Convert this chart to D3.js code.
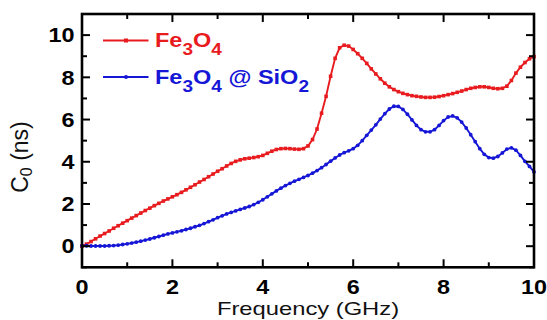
<!DOCTYPE html>
<html><head><meta charset="utf-8">
<script src="https://cdn.jsdelivr.net/npm/d3@7"></script>
<style>body{margin:0;background:#fff}svg{display:block}</style>
</head><body>
<script>
const freq = [0,0.1,0.2,0.3,0.4,0.5,0.6,0.7,0.8,0.9,1,1.1,1.2,1.3,1.4,1.5,1.6,1.7,1.8,1.9,2,2.1,2.2,2.3,2.4,2.5,2.6,2.7,2.8,2.9,3,3.1,3.2,3.3,3.4,3.5,3.6,3.7,3.8,3.9,4,4.1,4.2,4.3,4.4,4.5,4.6,4.7,4.8,4.9,5,5.1,5.2,5.3,5.4,5.5,5.6,5.7,5.8,5.9,6,6.1,6.2,6.3,6.4,6.5,6.6,6.7,6.8,6.9,7,7.1,7.2,7.3,7.4,7.5,7.6,7.7,7.8,7.9,8,8.1,8.2,8.3,8.4,8.5,8.6,8.7,8.8,8.9,9,9.1,9.2,9.3,9.4,9.5,9.6,9.7,9.8,9.9,10];
const fe3o4 = [0.00,0.10,0.22,0.35,0.48,0.60,0.72,0.85,0.97,1.09,1.21,1.33,1.45,1.57,1.69,1.80,1.92,2.03,2.14,2.24,2.34,2.44,2.55,2.67,2.79,2.91,3.04,3.16,3.29,3.42,3.55,3.67,3.80,3.92,4.02,4.09,4.14,4.17,4.20,4.24,4.30,4.40,4.50,4.58,4.62,4.63,4.62,4.60,4.59,4.62,4.75,5.05,5.55,6.30,7.10,8.05,8.90,9.40,9.52,9.48,9.32,9.12,8.90,8.66,8.40,8.16,7.93,7.72,7.55,7.42,7.32,7.24,7.18,7.13,7.10,7.07,7.05,7.05,7.06,7.09,7.13,7.18,7.23,7.29,7.35,7.42,7.48,7.52,7.55,7.55,7.52,7.48,7.46,7.48,7.58,7.85,8.20,8.48,8.70,8.88,8.98];
const fe3o4SiO2 = [0.02,0.02,0.01,0.01,0.01,0.01,0.02,0.03,0.05,0.08,0.11,0.15,0.19,0.24,0.29,0.34,0.40,0.46,0.52,0.58,0.63,0.68,0.73,0.79,0.85,0.92,0.99,1.07,1.16,1.25,1.35,1.44,1.53,1.60,1.67,1.74,1.81,1.88,1.97,2.08,2.20,2.34,2.48,2.62,2.75,2.87,2.98,3.08,3.17,3.26,3.35,3.46,3.58,3.72,3.87,4.03,4.18,4.32,4.43,4.52,4.62,4.78,5.00,5.25,5.50,5.75,6.02,6.28,6.50,6.63,6.62,6.48,6.25,5.98,5.72,5.52,5.42,5.42,5.52,5.72,5.95,6.12,6.17,6.08,5.88,5.60,5.28,4.95,4.62,4.35,4.20,4.17,4.25,4.42,4.60,4.66,4.55,4.30,4.02,3.78,3.52];
const xMajor = [0,2,4,6,8,10];
const xMinor = [1,3,5,7,9];
const yMajor = [0,2,4,6,8,10];
const yMinor = [-1,1,3,5,7,9];
const xLabels = ["0","2","4","6","8","10"];
const yLabels = ["0","2","4","6","8","10"];

const W = 547, H = 320;
const RED = "#e81b1f", BLUE = "#1616d6";
const SX = 1.12;
const FONT = "'Liberation Sans', Arial, sans-serif";

const svg = d3.select("body").append("svg").attr("width", W).attr("height", H);
const x = d3.scaleLinear().domain([0, 10]).range([82, 534]);
const y = d3.scaleLinear().domain([-1, 11]).range([267.3, 14]);

function stext(g, tx, ty, anchor, sx) {
  return g.append("text").attr("transform", `translate(${tx},${ty}) scale(${sx || SX},1)`)
    .attr("text-anchor", anchor).attr("font-family", FONT);
}

// series
const line = d3.line().x((d, i) => x(freq[i])).y(d => y(d)).curve(d3.curveLinear);
const series = [
  {vals: fe3o4, color: RED, marker: "square"},
  {vals: fe3o4SiO2, color: BLUE, marker: "circle"}
];
const plot = svg.append("g");
series.forEach(s => {
  plot.append("path").datum(s.vals).attr("d", line).attr("fill", "none")
    .attr("stroke", s.color).attr("stroke-width", 1.9);
  if (s.marker === "square") {
    plot.selectAll(null).data(s.vals).join("rect")
      .attr("x", (d, i) => x(freq[i]) - 1.8).attr("y", d => y(d) - 1.8)
      .attr("width", 3.6).attr("height", 3.6).attr("fill", s.color);
  } else {
    plot.selectAll(null).data(s.vals).join("circle")
      .attr("cx", (d, i) => x(freq[i])).attr("cy", d => y(d))
      .attr("r", 1.9).attr("fill", s.color);
  }
});

// frame
const [x0, x1] = x.range();
const [y0, y1] = y.range();
svg.append("rect").attr("x", x0).attr("y", y1).attr("width", x1 - x0).attr("height", y0 - y1)
  .attr("fill", "none").attr("stroke", "#000").attr("stroke-width", 2.6);

// ticks
const tk = svg.append("g").attr("stroke", "#000").attr("stroke-width", 2);
[[xMajor, 8], [xMinor, 5]].forEach(([vals, len]) => {
  vals.forEach(v => {
    tk.append("line").attr("x1", x(v)).attr("x2", x(v)).attr("y1", y0).attr("y2", y0 - len);
    tk.append("line").attr("x1", x(v)).attr("x2", x(v)).attr("y1", y1).attr("y2", y1 + len);
  });
});
[[yMajor, 8], [yMinor, 5]].forEach(([vals, len]) => {
  vals.forEach(v => {
    tk.append("line").attr("y1", y(v)).attr("y2", y(v)).attr("x1", x0).attr("x2", x0 + len);
    tk.append("line").attr("y1", y(v)).attr("y2", y(v)).attr("x1", x1).attr("x2", x1 - len);
  });
});

// tick labels
const lab = svg.append("g");
xMajor.forEach((v, i) => {
  stext(lab, x(v), 294, "middle", 1.2).attr("font-size", 19.5).attr("font-weight", "bold")
    .attr("fill", "#000").text(xLabels[i]);
});
yMajor.forEach((v, i) => {
  stext(lab, 74.5, y(v) + 7.3, "end", 1.17).attr("font-size", 20).attr("font-weight", "bold")
    .attr("fill", "#000").text(yLabels[i]);
});

// axis titles
stext(svg, (x0 + x1) / 2, 315.2, "middle", 1.25).attr("font-size", 19).attr("fill", "#111")
  .text("Frequency (GHz)");
const yt = svg.append("text").attr("transform", "translate(28,157) rotate(-90)")
  .attr("text-anchor", "middle").attr("font-family", FONT).attr("font-size", 23).attr("fill", "#111");
yt.append("tspan").text("C");
yt.append("tspan").attr("font-size", 16).attr("dy", 4).text("0");
yt.append("tspan").attr("dy", -4).text(" (ns)");

// legend
const legend = [
  {parts: [["Fe", 0], ["3", 1], ["O", 0], ["4", 1]], color: RED, marker: "square", ly: 40.5},
  {parts: [["Fe", 0], ["3", 1], ["O", 0], ["4", 1], [" @ Si", 0], ["O", 0], ["2", 1]], color: BLUE, marker: "circle", ly: 77}
];
legend.forEach(L => {
  const g = svg.append("g");
  g.append("line").attr("x1", 103).attr("x2", 148.5).attr("y1", L.ly).attr("y2", L.ly)
    .attr("stroke", L.color).attr("stroke-width", 1.8);
  if (L.marker === "square") {
    g.append("rect").attr("x", 126 - 2).attr("y", L.ly - 2).attr("width", 4).attr("height", 4).attr("fill", L.color);
  } else {
    g.append("circle").attr("cx", 126).attr("cy", L.ly).attr("r", 2).attr("fill", L.color);
  }
  const t = stext(g, 155, L.ly + 6.7, "start").attr("font-size", 21).attr("font-weight", "bold").attr("fill", L.color);
  let sub = 0;
  L.parts.forEach(([s, isSub]) => {
    const ts = t.append("tspan").text(s);
    if (isSub) { ts.attr("font-size", 17).attr("dy", sub ? 0 : 8); sub = 1; }
    else { if (sub) ts.attr("dy", -8); sub = 0; }
  });
});
</script>
</body></html>
